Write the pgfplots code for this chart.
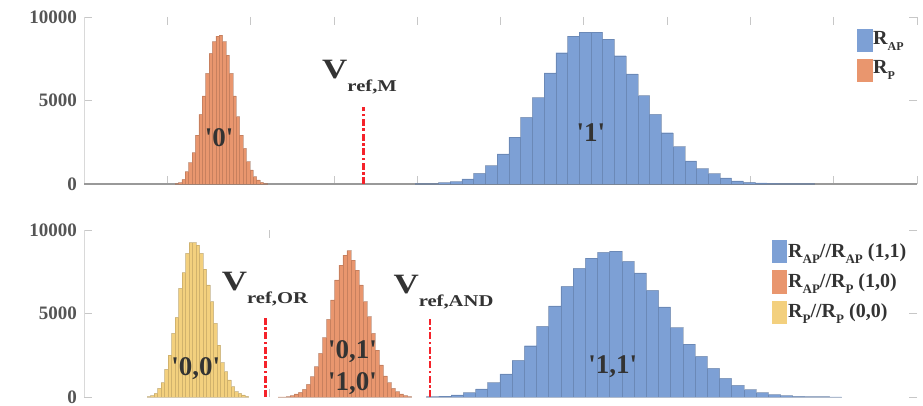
\documentclass[border=0pt]{standalone}
\usepackage{fontspec}
\setmainfont{Liberation Serif}
\usepackage{graphicx}
\usepackage{pgfplots}
\pgfplotsset{compat=1.18}

\definecolor{apblue}{HTML}{7DA0D5}
\definecolor{porange}{HTML}{E9966E}
\definecolor{pyellow}{HTML}{F3D07E}
\definecolor{vrefred}{HTML}{F5222A}
\definecolor{labgray}{HTML}{333333}
\definecolor{tickgray}{HTML}{555555}

\pgfplotsset{
  histpanel/.style={
    scale only axis, width=833pt, height=167pt,
    xmin=84, xmax=917, ymin=0, ymax=10000,
    axis line style={draw=none},
    tick align=inside, major tick length=8pt,
    tick style={draw=black!22, line width=0.8pt},
    ytick={0,5000,10000},
    scaled ticks=false,
    /pgf/number format/1000 sep={},
    /pgf/number format/assume math mode=true,
    yticklabel style={font=\fontsize{19}{19}\selectfont\bfseries, text=tickgray, inner sep=0pt, xshift=-7pt},
    xticklabels={},
    clip=false,
  },
  hist/.style={ybar interval, fill=#1, draw=#1!65!black, line width=0.45pt, draw opacity=0.4},
  vline/.style={vrefred, line width=2.8pt, dash pattern=on 7pt off 2.5pt on 2.5pt off 2.5pt},
}

% annotation helpers
\newcommand\lab[1]{\fontsize{27}{27}\selectfont\bfseries #1}
\newcommand\q{\textquotesingle}
\newcommand\vref[1]{\scalebox{1.25}[1]{\fontsize{28}{28}\selectfont\bfseries V\raisebox{-13.3pt}{\fontsize{16.5}{16.5}\selectfont #1}}}
\newcommand\subA[1]{\raisebox{-5.5pt}{\fontsize{12}{12}\selectfont #1}}
\newcommand\subB[1]{\raisebox{-6pt}{\fontsize{13}{13}\selectfont #1}}

\begin{document}
\begin{tikzpicture}
\useasboundingbox (0pt,0pt) rectangle (923pt,405pt);

% ---- upper panel: single cell ----
\begin{axis}[histpanel, at={(84pt,221pt)}, anchor=south west,
  xtick={84,167.3,250.6,333.9,417.2,500.5,583.8,667.1,750.4,833.7,917}]
\draw[black!15, line width=1pt] (rel axis cs:0,0) -- (rel axis cs:0,1);
\draw[black!40, line width=1.3pt] (rel axis cs:0,0) -- (rel axis cs:1,0);
% R_AP
\addplot[hist=apblue] coordinates {
(415.0,20) (426.7,20) (438.5,80) (450.2,140) (461.9,300) (473.7,640) (485.4,1100)
(497.1,1800) (508.8,2810) (520.6,3990) (532.3,5170) (544.0,6650) (555.8,7860)
(567.5,8860) (579.2,9100) (591.0,9100) (602.7,8680) (614.4,7680) (626.1,6590)
(637.9,5290) (649.6,4170) (661.3,3070) (673.1,2240) (684.8,1380) (696.5,920)
(708.3,620) (720.0,360) (731.7,180) (743.4,100) (755.2,60) (766.9,40) (778.6,20)
(790.4,20) (802.1,20) (813.8,0)};
% R_P
\addplot[hist=porange] coordinates {
(175.0,20) (178.4,80) (181.8,280) (185.2,740) (188.6,1280) (192.0,1880) (195.4,2930)
(198.8,4170) (202.2,5270) (205.6,6630) (209.0,7820) (212.4,8520) (215.8,8860)
(219.2,8920) (222.6,8520) (226.0,7720) (229.4,6630) (232.8,5270) (236.2,4030)
(239.6,2930) (243.0,2140) (246.4,1340) (249.8,840) (253.2,440) (256.6,240)
(260.0,100) (263.4,20) (266.8,0)};
% reference level
\addplot[vline] coordinates {(363.3,0) (363.3,4630)};
\end{axis}

% ---- lower panel: two cells in parallel ----
\begin{axis}[histpanel, at={(84pt,8pt)}, anchor=south west, xtick={269}]
\draw[black!15, line width=1pt] (rel axis cs:0,0) -- (rel axis cs:0,1);
% R_AP // R_AP
\addplot[hist=apblue] coordinates {
(426.7,20) (438.9,60) (451.1,120) (463.3,260) (475.5,480) (487.7,860) (499.9,1380)
(512.1,2200) (524.3,3070) (536.5,4230) (548.7,5450) (560.9,6630) (573.1,7700)
(585.3,8320) (597.5,8660) (609.7,8740) (621.9,8120) (634.1,7430) (646.3,6390)
(658.5,5390) (670.7,4150) (682.9,3170) (695.1,2440) (707.3,1720) (719.5,1120)
(731.7,700) (743.9,440) (756.1,260) (768.3,140) (780.5,80) (792.7,40) (804.9,20)
(817.1,20) (829.3,10) (841.5,0)};
% R_AP // R_P
\addplot[hist=porange] coordinates {
(278.00,10) (282.05,10) (286.10,20) (290.15,80) (294.20,180) (298.25,280)
(302.30,460) (306.35,760) (310.40,1220) (314.45,1820) (318.50,2610) (322.55,3550)
(326.60,4650) (330.65,5810) (334.70,7010) (338.75,7900) (342.80,8500) (346.85,8760)
(350.90,8200) (354.95,7600) (359.00,6710) (363.05,5710) (367.10,4810) (371.15,3810)
(375.20,2810) (379.25,1920) (383.30,1260) (387.35,860) (391.40,520) (395.45,320)
(399.50,180) (403.55,80) (407.60,20) (411.65,0)};
% R_P // R_P
\addplot[hist=pyellow] coordinates {
(147.0,20) (150.5,80) (154.0,220) (157.5,520) (161.0,860) (164.5,1660) (168.0,2510)
(171.5,3810) (175.0,4770) (178.5,6510) (182.0,7450) (185.5,8600) (189.0,9240)
(192.5,9240) (196.0,9100) (199.5,8600) (203.0,7650) (206.5,6710) (210.0,5710)
(213.5,4410) (217.0,3110) (220.5,2060) (224.0,1520) (227.5,1020) (231.0,620)
(234.5,320) (238.0,220) (241.5,120) (245.0,40) (248.5,0)};
% reference levels
\addplot[vline] coordinates {(265.7,0) (265.7,4713)};
\addplot[vline] coordinates {(430.0,0) (430.0,4671)};
\end{axis}

% ---- state labels ----
\begin{scope}[every node/.style={inner sep=0pt, text=labgray}]
\node[anchor=base] at (219.2pt,258.3pt) {\lab{\q0\q}};
\node[anchor=base] at (590.8pt,263.3pt) {\lab{\q1\q}};
\node[anchor=base] at (195.8pt,30pt)    {\lab{\q0,0\q}};
\node[anchor=base] at (352.5pt,46.7pt)  {\lab{\q0,1\q}};
\node[anchor=base] at (352.5pt,15pt)    {\lab{\q1,0\q}};
\node[anchor=base] at (612.8pt,31.7pt)  {\lab{\q1,1\q}};

\node[anchor=base west] at (322pt,326.7pt)   {\vref{ref,M}};
\node[anchor=base west] at (221.7pt,115pt)   {\vref{ref,OR}};
\node[anchor=base west] at (393.3pt,111.5pt) {\vref{ref,AND}};

% upper legend
\fill[apblue]  (856.7pt,352.7pt) rectangle (872.7pt,375.7pt);
\fill[porange] (856.7pt,323.3pt) rectangle (872.7pt,345.7pt);
\node[anchor=base west, font=\fontsize{20}{20}\selectfont\bfseries] at (873pt,360pt) {R\subA{AP}};
\node[anchor=base west, font=\fontsize{20}{20}\selectfont\bfseries] at (873pt,331pt) {R\subA{P}};

% lower legend
\fill[apblue]  (771.7pt,141.7pt) rectangle (787.3pt,165pt);
\fill[porange] (771.7pt,111pt)   rectangle (787.3pt,135pt);
\fill[pyellow] (771.7pt,80.7pt)  rectangle (787.3pt,104pt);
\node[anchor=base west, font=\fontsize{20}{20}\selectfont\bfseries] at (788pt,147.7pt) {R\subB{AP}//R\subB{AP} (1,1)};
\node[anchor=base west, font=\fontsize{20}{20}\selectfont\bfseries] at (788pt,117.7pt) {R\subB{AP}//R\subB{P} (1,0)};
\node[anchor=base west, font=\fontsize{20}{20}\selectfont\bfseries] at (788pt,87.7pt)  {R\subB{P}//R\subB{P} (0,0)};
\end{scope}
\end{tikzpicture}
\end{document}
